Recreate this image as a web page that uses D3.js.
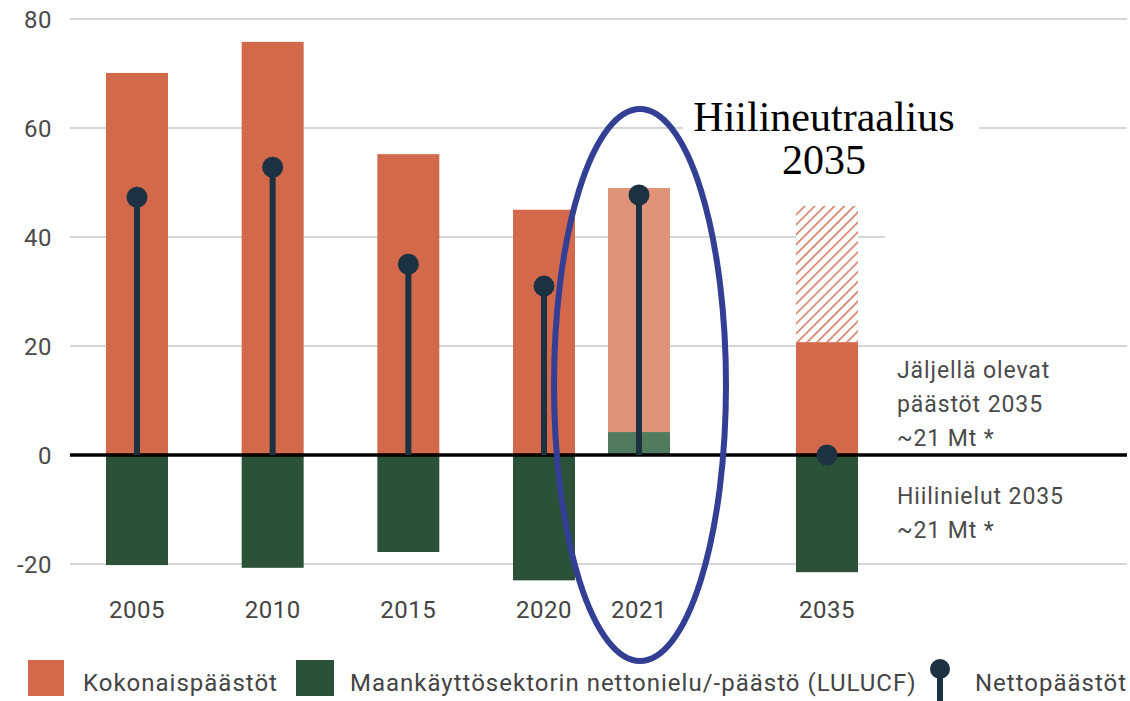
<!DOCTYPE html>
<html lang="fi">
<head>
<meta charset="utf-8">
<title>Päästöt ja nielut</title>
<script src="https://d3js.org/d3.v7.min.js"></script>
<style>
  body { margin: 0; background: #fff; }
  text { font-family: Roboto, "Noto Sans", sans-serif; }
</style>
</head>
<body>
<div id="chart"></div>
<script>
// data (Mt CO2-ekv.)
const years    = [2005, 2010, 2015, 2020, 2021, 2035];
const total    = [70.1, 75.8, 55.2, 45.0, 49.0, 20.7];   // Kokonaispäästöt
const lulucf   = [-20.2, -20.7, -17.8, -23.0, 4.2, -21.5]; // Maankäyttösektori
const net      = [47.3, 52.8, 35.0, 31.0, 47.7, 0];      // Nettopäästöt
const target2035Hatched = 45.7;  // hatched part of 2035 bar (top)
const yTicks   = [-20, 0, 20, 40, 60, 80];

const W = 1130, H = 701;
const orange = "#d2694a", orangeLight = "#df9479";
const green = "#2b5238", greenLight = "#527a5c";
const navy = "#1c3141";
const grid = "#c8c8c8";

const svg = d3.select("#chart").append("svg")
    .attr("width", W).attr("height", H);

const defs = svg.append("defs");
const pat = defs.append("pattern")
    .attr("id", "hatch")
    .attr("patternUnits", "userSpaceOnUse")
    .attr("width", 7).attr("height", 7)
    .attr("patternTransform", "rotate(45)");
pat.append("rect").attr("width", 7).attr("height", 7).attr("fill", "#fff");
pat.append("line").attr("x1", 0).attr("y1", 0).attr("x2", 0).attr("y2", 7)
    .attr("stroke", "#d0735a").attr("stroke-width", 3);

// scales
const y = d3.scaleLinear().domain([-20, 80]).range([564, 19]);
const x = d3.scaleLinear().domain([2005, 2020, 2021, 2035]).range([137, 544, 639, 827]);
const barW = 62;
const gridLeft = 70, gridRight = 1127;

// gridlines
svg.append("g").selectAll("line")
    .data(yTicks.filter(d => d !== 0))
    .join("line")
    .attr("x1", gridLeft)
    .attr("x2", d => d === 40 ? 885 : gridRight)
    .attr("y1", d => y(d)).attr("y2", d => y(d))
    .attr("stroke", grid).attr("stroke-width", 1.5);

// y tick labels
svg.append("g").selectAll("text")
    .data(yTicks)
    .join("text")
    .attr("x", 52).attr("y", d => y(d) + 8.5)
    .attr("text-anchor", "end")
    .attr("font-size", 24)
    .attr("letter-spacing", 0.5)
    .attr("fill", "#4a4a4a")
    .text(d => d);

const rows = years.map((yr, i) => ({ yr, i, total: total[i], lulucf: lulucf[i], net: net[i] }));

// hatched 2035 part
svg.append("rect")
    .attr("x", x(2035) - barW / 2).attr("width", barW)
    .attr("y", y(target2035Hatched))
    .attr("height", y(total[5]) - y(target2035Hatched))
    .attr("fill", "url(#hatch)");

// total bars
svg.append("g").selectAll("rect")
    .data(rows)
    .join("rect")
    .attr("x", d => x(d.yr) - barW / 2).attr("width", barW)
    .attr("y", d => y(d.total))
    .attr("height", d => y(0) - y(d.total))
    .attr("fill", d => d.yr === 2021 ? orangeLight : orange);

// LULUCF bars
svg.append("g").selectAll("rect")
    .data(rows)
    .join("rect")
    .attr("x", d => x(d.yr) - barW / 2).attr("width", barW)
    .attr("y", d => y(Math.max(0, d.lulucf)))
    .attr("height", d => Math.abs(y(d.lulucf) - y(0)))
    .attr("fill", d => d.yr === 2021 ? greenLight : green);

// zero line
svg.append("line")
    .attr("x1", gridLeft).attr("x2", gridRight)
    .attr("y1", y(0)).attr("y2", y(0))
    .attr("stroke", "#000").attr("stroke-width", 3.5);

// net emissions pins
const pins = svg.append("g").selectAll("g").data(rows).join("g");
pins.append("line")
    .attr("x1", d => x(d.yr)).attr("x2", d => x(d.yr))
    .attr("y1", y(0)).attr("y2", d => y(d.net))
    .attr("stroke", navy).attr("stroke-width", 6);
pins.append("circle")
    .attr("cx", d => x(d.yr)).attr("cy", d => y(d.net))
    .attr("r", 10.5).attr("fill", navy);

// x labels
svg.append("g").selectAll("text")
    .data(years)
    .join("text")
    .attr("x", d => x(d)).attr("y", 618)
    .attr("text-anchor", "middle")
    .attr("font-size", 24)
    .attr("letter-spacing", 0.5)
    .attr("fill", "#444")
    .text(d => d);

// right-side notes
const note = (lines, y0) => {
  const t = svg.append("text").attr("x", 897).attr("font-size", 23)
      .attr("letter-spacing", 0.9).attr("fill", "#4a4a4a");
  lines.forEach((l, k) => t.append("tspan").attr("x", 897).attr("y", y0 + k * 34).text(l));
};
note(["Jäljellä olevat", "päästöt 2035", "~21 Mt *"], 378);
note(["Hiilinielut 2035", "~21 Mt *"], 504);

// annotation
svg.append("rect").attr("x", 683).attr("y", 92).attr("width", 296).attr("height", 92).attr("fill", "#fff");
const ann = svg.append("text")
    .attr("text-anchor", "middle")
    .style("font-family", "'Liberation Serif', 'DejaVu Serif', serif")
    .attr("font-size", 42).attr("fill", "#000");
ann.append("tspan").attr("x", 824).attr("y", 131).text("Hiilineutraalius");
ann.append("tspan").attr("x", 824).attr("y", 174).text("2035");

svg.append("ellipse")
    .attr("cx", 640).attr("cy", 385).attr("rx", 86).attr("ry", 276)
    .attr("fill", "none").attr("stroke", "#333f94").attr("stroke-width", 6);

// legend
const lg = svg.append("g").attr("font-size", 24).attr("letter-spacing", 1).attr("fill", "#444");
lg.append("rect").attr("x", 28).attr("y", 660).attr("width", 36).attr("height", 36).attr("fill", orange);
lg.append("text").attr("x", 83).attr("y", 691).text("Kokonaispäästöt");
lg.append("rect").attr("x", 296).attr("y", 660).attr("width", 38).attr("height", 36).attr("fill", green);
lg.append("text").attr("x", 350).attr("y", 691)
  .text("Maankäyttösektorin nettonielu/-päästö (LULUCF)");
lg.append("line").attr("x1", 940).attr("x2", 940).attr("y1", 668).attr("y2", 701)
  .attr("stroke", navy).attr("stroke-width", 6);
lg.append("circle").attr("cx", 940).attr("cy", 669).attr("r", 10).attr("fill", navy);
lg.append("text").attr("x", 975).attr("y", 691).text("Nettopäästöt");
</script>
</body>
</html>
